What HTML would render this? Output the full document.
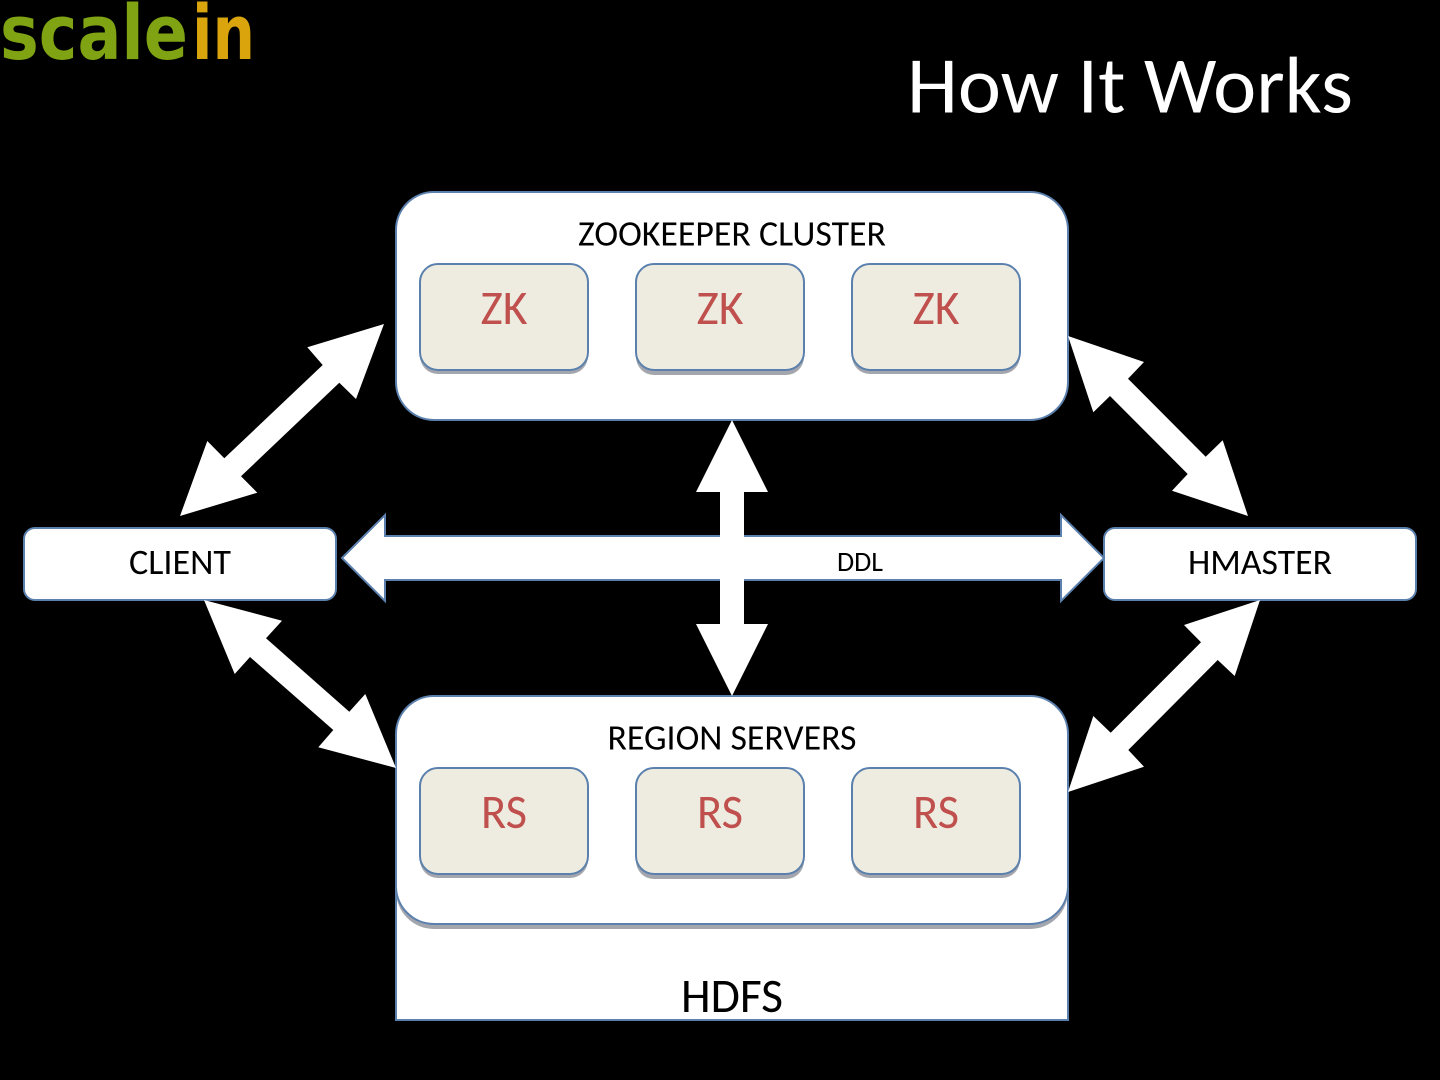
<!DOCTYPE html>
<html lang="en">
<head>
<meta charset="utf-8">
<title>How It Works</title>
<style>
html,body{margin:0;padding:0;background:#000;width:1440px;height:1080px;overflow:hidden}
svg{display:block}
text{font-family:"Carlito","Liberation Sans",sans-serif;text-anchor:middle}
</style>
</head>
<body>
<svg width="1440" height="1080" viewBox="0 0 1440 1080" xmlns="http://www.w3.org/2000/svg">
<rect width="1440" height="1080" fill="#000"/>

<!-- logo -->
<text x="0" y="59" font-size="76" font-weight="700" fill="#7fa312" textLength="188" lengthAdjust="spacingAndGlyphs" style="font-family:'DejaVu Sans',sans-serif;text-anchor:start">scale</text>
<text x="192" y="59" font-size="76" font-weight="700" fill="#d9a40c" textLength="63" lengthAdjust="spacingAndGlyphs" style="font-family:'DejaVu Sans',sans-serif;text-anchor:start">in</text>

<!-- title -->
<text x="1130" y="112.5" font-size="80" fill="#fff" textLength="446" lengthAdjust="spacingAndGlyphs">How It Works</text>

<!-- HDFS -->
<rect x="396" y="860" width="672" height="160" fill="#fff" stroke="#5b80ad" stroke-width="2"/>
<text x="732" y="1012" font-size="48" fill="#000" textLength="102" lengthAdjust="spacingAndGlyphs">HDFS</text>

<!-- Zookeeper -->
<rect x="396" y="192" width="672" height="228" rx="38" fill="#fff" stroke="#5b80ad" stroke-width="2"/>
<text x="732" y="245.5" font-size="36" fill="#000" textLength="308" lengthAdjust="spacingAndGlyphs">ZOOKEEPER CLUSTER</text>

<!-- Region servers -->
<rect x="396" y="701" width="672" height="228" rx="38" fill="#a3a6ad"/>
<rect x="396" y="696" width="672" height="228" rx="38" fill="#fff" stroke="#5b80ad" stroke-width="2"/>
<text x="732" y="749.5" font-size="36" fill="#000" textLength="249" lengthAdjust="spacingAndGlyphs">REGION SERVERS</text>

<!-- inner box shadows -->
<g fill="#a3a6ad">
<rect x="420" y="268" width="168" height="106" rx="18"/>
<rect x="636" y="268" width="168" height="107" rx="18"/>
<rect x="852" y="268" width="168" height="106" rx="18"/>
<rect x="420" y="772" width="168" height="106" rx="18"/>
<rect x="636" y="772" width="168" height="107" rx="18"/>
<rect x="852" y="772" width="168" height="106" rx="18"/>
</g>
<!-- inner boxes -->
<g fill="#eeece1" stroke="#5b80ad" stroke-width="2">
<rect x="420" y="264" width="168" height="106" rx="18"/>
<rect x="636" y="264" width="168" height="106" rx="18"/>
<rect x="852" y="264" width="168" height="106" rx="18"/>
<rect x="420" y="768" width="168" height="106" rx="18"/>
<rect x="636" y="768" width="168" height="106" rx="18"/>
<rect x="852" y="768" width="168" height="106" rx="18"/>
</g>
<g font-size="48" fill="#c0504d">
<text x="504" y="324" textLength="47" lengthAdjust="spacingAndGlyphs">ZK</text>
<text x="720" y="324" textLength="47" lengthAdjust="spacingAndGlyphs">ZK</text>
<text x="936" y="324" textLength="47" lengthAdjust="spacingAndGlyphs">ZK</text>
<text x="504" y="828" textLength="46" lengthAdjust="spacingAndGlyphs">RS</text>
<text x="720" y="828" textLength="46" lengthAdjust="spacingAndGlyphs">RS</text>
<text x="936" y="828" textLength="46" lengthAdjust="spacingAndGlyphs">RS</text>
</g>

<!-- Client / HMaster -->
<rect x="24" y="528" width="312" height="72" rx="11" fill="#fff" stroke="#5b80ad" stroke-width="2"/>
<text x="180" y="574" font-size="36" fill="#000" textLength="102" lengthAdjust="spacingAndGlyphs">CLIENT</text>
<rect x="1104" y="528" width="312" height="72" rx="11" fill="#fff" stroke="#5b80ad" stroke-width="2"/>
<text x="1260" y="574" font-size="36" fill="#000" textLength="144" lengthAdjust="spacingAndGlyphs">HMASTER</text>

<!-- horizontal arrow -->
<polygon points="342,558 385,515 385,536 1061,536 1061,515 1104,558 1061,601 1061,580 385,580 385,601" fill="#fff" stroke="#5b80ad" stroke-width="2"/>
<text x="860" y="571" font-size="28" fill="#000" textLength="46" lengthAdjust="spacingAndGlyphs">DDL</text>

<!-- vertical arrow -->
<polygon points="732,420 768,492 744,492 744,624 768,624 732,696 696,624 720,624 720,492 696,492" fill="#fff"/>

<!-- diagonal arrows -->
<g fill="#fff">
<polygon points="384,324 307.3,347.3 322.7,365 224.3,458.3 207.3,441 180,516 257.3,492.7 241,476.3 339.3,382.7 356,399"/>
<polygon points="1068,336 1144,362 1128,378.7 1205.7,456.7 1222.7,440.3 1248,516 1172,490.7 1187.7,474 1110,396 1093.3,412.3"/>
<polygon points="204,600 282,620.7 266,638.3 349.3,711.7 365.3,694 396,768 318.3,747.3 333.3,730 250,657 234.7,674"/>
<polygon points="1260,600 1184,625 1201,642.3 1110.7,732.7 1093.3,716 1068,792 1144,766.7 1128.3,750 1217.7,660 1234.7,676"/>
</g>
</svg>
</body>
</html>
